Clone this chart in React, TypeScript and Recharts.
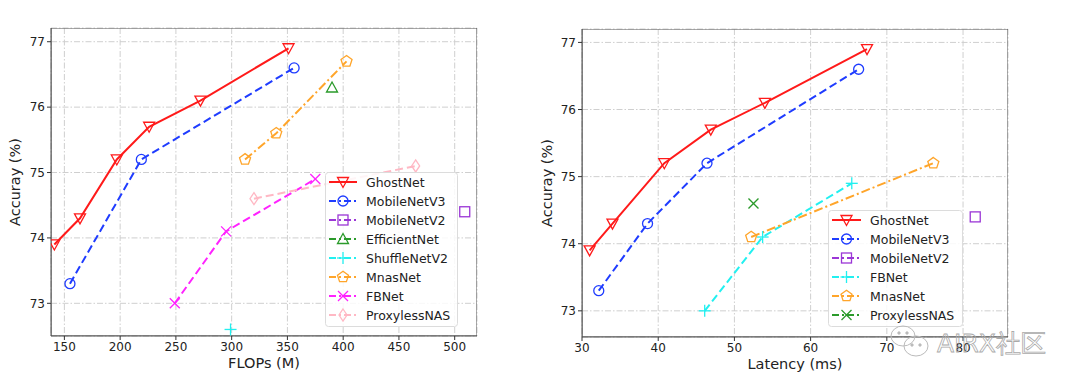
import React from "react";
import {
  ComposedChart,
  Line,
  XAxis,
  YAxis,
  CartesianGrid,
  ReferenceArea,
  Label,
} from "recharts";

// ---------- Data ----------
// Left: FLOPs (M) vs accuracy
const ghostFlops = [141, 164, 197, 226, 272, 351];
const ghostAcc = [73.9, 74.3, 75.2, 75.7, 76.1, 76.9];
const mbv3Flops = [155, 219, 356];
const mbv3Acc = [73.3, 75.2, 76.6];
const mbv2Flops = [509];
const mbv2Acc = [74.4];
const effFlops = [390];
const effAcc = [76.3];
const shuffleFlops = [299];
const shuffleAcc = [72.6];
const mnasFlops = [312, 340, 403];
const mnasAcc = [75.2, 75.6, 76.7];
const fbFlops = [249, 295, 375];
const fbAcc = [73.0, 74.1, 74.9];
const proxyFlops = [320, 465];
const proxyAcc = [74.6, 75.1];

// Right: Latency (ms) vs accuracy
const ghostLat = [31.0, 34.0, 40.8, 46.9, 54.0, 67.4];
const ghostLatAcc = [73.9, 74.3, 75.2, 75.7, 76.1, 76.9];
const mbv3Lat = [32.2, 38.6, 46.4, 66.3];
const mbv3LatAcc = [73.3, 74.3, 75.2, 76.6];
const mbv2Lat = [81.6];
const mbv2LatAcc = [74.4];
const fbLat = [46.1, 53.7, 65.4];
const fbLatAcc = [73.0, 74.1, 74.9];
const mnasLat = [52.2, 76.1];
const mnasLatAcc = [74.1, 75.2];
const proxyLat = [52.5];
const proxyLatAcc = [74.6];

const flopsTicks = [150, 200, 250, 300, 350, 400, 450, 500];
const latTicks = [30, 40, 50, 60, 70, 80];
const accTicks = [73, 74, 75, 76, 77];

const flopsDomain: [number, number] = [138, 520];
const accDomainL: [number, number] = [72.5, 77.21];
const latDomain: [number, number] = [30, 85.9];
const accDomainR: [number, number] = [72.61, 77.2];

// ---------- Styles ----------
const FONT = "DejaVu Sans, Verdana, sans-serif";
const C = {
  red: "#ff1a1a",
  blue: "#1f3cff",
  purple: "#9b36d6",
  green: "#2a9a2a",
  cyan: "#22f0f0",
  orange: "#ffa52a",
  magenta: "#ff22ff",
  pink: "#ffb8c4",
};
const DASH = "8 4";
const DASHDOT = "9 3 2 3";

type Marker = "v" | "o" | "s" | "^" | "+" | "p" | "x" | "d";

function markerShape(kind: Marker, cx: number, cy: number, color: string, key?: string) {
  const sw = 1.3;
  const common = { stroke: color, strokeWidth: sw, fill: "none" } as any;
  switch (kind) {
    case "v":
      return <polygon key={key} {...common} points={`${cx - 5.5},${cy - 4.5} ${cx + 5.5},${cy - 4.5} ${cx},${cy + 5.5}`} />;
    case "^":
      return <polygon key={key} {...common} points={`${cx - 5.5},${cy + 4.5} ${cx + 5.5},${cy + 4.5} ${cx},${cy - 5.5}`} />;
    case "o":
      return <circle key={key} {...common} cx={cx} cy={cy} r={5} />;
    case "s":
      return <rect key={key} {...common} x={cx - 5} y={cy - 5} width={10} height={10} />;
    case "+":
      return (
        <g key={key} {...common}>
          <line x1={cx - 6} y1={cy} x2={cx + 6} y2={cy} />
          <line x1={cx} y1={cy - 6} x2={cx} y2={cy + 6} />
        </g>
      );
    case "x":
      return (
        <g key={key} {...common}>
          <line x1={cx - 5} y1={cy - 5} x2={cx + 5} y2={cy + 5} />
          <line x1={cx - 5} y1={cy + 5} x2={cx + 5} y2={cy - 5} />
        </g>
      );
    case "p": {
      const pts: string[] = [];
      for (let i = 0; i < 5; i++) {
        const a = -Math.PI / 2 + (i * 2 * Math.PI) / 5;
        pts.push(`${cx + 5.8 * Math.cos(a)},${cy + 5.8 * Math.sin(a)}`);
      }
      return <polygon key={key} {...common} points={pts.join(" ")} />;
    }
    case "d":
      return <polygon key={key} {...common} points={`${cx},${cy - 6} ${cx + 4},${cy} ${cx},${cy + 6} ${cx - 4},${cy}`} />;
  }
  return null;
}

const dotFor = (kind: Marker, color: string) => (props: any) => {
  const { cx, cy, index } = props;
  if (cx == null || cy == null) return <g key={`e${index}`} />;
  return markerShape(kind, cx, cy, color, `m${index}`);
};

interface Series {
  name: string;
  xs: number[];
  ys: number[];
  color: string;
  marker: Marker;
  dash?: string;
  width: number;
}

const zip = (xs: number[], ys: number[]) => xs.map((x, i) => ({ x, y: ys[i] }));

const leftSeries: Series[] = [
  { name: "GhostNet", xs: ghostFlops, ys: ghostAcc, color: C.red, marker: "v", width: 2 },
  { name: "MobileNetV3", xs: mbv3Flops, ys: mbv3Acc, color: C.blue, marker: "o", dash: DASH, width: 2 },
  { name: "MobileNetV2", xs: mbv2Flops, ys: mbv2Acc, color: C.purple, marker: "s", dash: DASHDOT, width: 2 },
  { name: "EfficientNet", xs: effFlops, ys: effAcc, color: C.green, marker: "^", dash: DASHDOT, width: 2 },
  { name: "ShuffleNetV2", xs: shuffleFlops, ys: shuffleAcc, color: C.cyan, marker: "+", dash: DASHDOT, width: 2 },
  { name: "MnasNet", xs: mnasFlops, ys: mnasAcc, color: C.orange, marker: "p", dash: DASHDOT, width: 2 },
  { name: "FBNet", xs: fbFlops, ys: fbAcc, color: C.magenta, marker: "x", dash: DASH, width: 2 },
  { name: "ProxylessNAS", xs: proxyFlops, ys: proxyAcc, color: C.pink, marker: "d", dash: DASH, width: 2 },
];

const rightSeries: Series[] = [
  { name: "GhostNet", xs: ghostLat, ys: ghostLatAcc, color: C.red, marker: "v", width: 2 },
  { name: "MobileNetV3", xs: mbv3Lat, ys: mbv3LatAcc, color: C.blue, marker: "o", dash: DASH, width: 2 },
  { name: "MobileNetV2", xs: mbv2Lat, ys: mbv2LatAcc, color: C.purple, marker: "s", dash: DASHDOT, width: 2 },
  { name: "FBNet", xs: fbLat, ys: fbLatAcc, color: C.cyan, marker: "+", dash: DASH, width: 2 },
  { name: "MnasNet", xs: mnasLat, ys: mnasLatAcc, color: C.orange, marker: "p", dash: DASHDOT, width: 2 },
  { name: "ProxylessNAS", xs: proxyLat, ys: proxyLatAcc, color: C.green, marker: "x", dash: DASHDOT, width: 2 },
];

const tickStyle = { fontFamily: FONT, fontSize: 12, fill: "#222" };
const labelStyle = { fontFamily: FONT, fontSize: 14.5, fill: "#222" };

function LegendBox({ series, left, top, width, textX }: { series: Series[]; left: number; top: number; width: number; textX: number }) {
  const rowH = 19;
  const h = series.length * rowH + 3;
  return (
    <svg style={{ position: "absolute", left, top, overflow: "visible" }} width={width} height={h}>
      <rect x={0.5} y={0.5} width={width - 1} height={h - 1} rx={3} fill="rgba(255,255,255,0.85)" stroke="#dcdcdc" />
      {series.map((s, i) => {
        const cy = 10 + i * rowH;
        return (
          <g key={s.name}>
            <line x1={4} x2={textX - 9} y1={cy} y2={cy} stroke={s.color} strokeWidth={2} strokeDasharray={s.dash ? "7 3 2 3" : undefined} />
            {markerShape(s.marker, (4 + textX - 9) / 2, cy, s.color)}
            <text x={textX} y={cy + 4.5} fontFamily={FONT} fontSize={12.5} fill="#222">
              {s.name}
            </text>
          </g>
        );
      })}
    </svg>
  );
}

function Panel({
  series,
  xDomain,
  yDomain,
  xTicks,
  xLabel,
  margin,
  yAxisWidth,
  yLabelOffset,
}: {
  series: Series[];
  xDomain: [number, number];
  yDomain: [number, number];
  xTicks: number[];
  xLabel: string;
  margin: any;
  yAxisWidth: number;
  yLabelOffset: number;
}) {
  return (
    <ComposedChart width={540} height={390} margin={margin}>
      <CartesianGrid stroke="#cfcfcf" strokeDasharray="6 2 1.5 2" strokeWidth={1} />
      <XAxis
        type="number"
        dataKey="x"
        domain={xDomain}
        ticks={xTicks}
        allowDataOverflow
        height={30}
        tick={tickStyle}
        tickSize={4}
        tickMargin={2}
        axisLine={{ stroke: "#555" }}
        tickLine={{ stroke: "#333" }}
      >
        <Label value={xLabel} position="bottom" offset={-8} style={labelStyle} />
      </XAxis>
      <YAxis
        type="number"
        dataKey="y"
        domain={yDomain}
        ticks={accTicks}
        allowDataOverflow
        width={yAxisWidth}
        tick={tickStyle}
        tickSize={4}
        tickMargin={2}
        axisLine={{ stroke: "#555" }}
        tickLine={{ stroke: "#333" }}
      >
        <Label value="Accuray (%)" angle={-90} position="insideLeft" offset={yLabelOffset} style={{ ...labelStyle, textAnchor: "middle" }} />
      </YAxis>
      <ReferenceArea x1={xDomain[0]} x2={xDomain[1]} y1={yDomain[0]} y2={yDomain[1]} fill="none" stroke="#555" strokeWidth={1} ifOverflow="hidden" />
      {series.map((s) => (
        <Line
          key={s.name}
          name={s.name}
          data={zip(s.xs, s.ys)}
          dataKey="y"
          type="linear"
          stroke={s.color}
          strokeWidth={s.width}
          strokeDasharray={s.dash}
          dot={dotFor(s.marker, s.color)}
          activeDot={false}
          isAnimationActive={false}
        />
      ))}
    </ComposedChart>
  );
}

export default function App() {
  return (
    <div style={{ position: "absolute", left: 0, top: 0, width: 1080, height: 390, background: "#fff", overflow: "hidden" }}>
      <div style={{ position: "absolute", left: 0, top: 0 }}>
        <Panel
          series={leftSeries}
          xDomain={flopsDomain}
          yDomain={accDomainL}
          xTicks={flopsTicks}
          xLabel="FLOPs (M)"
          margin={{ top: 28, right: 63, bottom: 24, left: 11 }}
          yAxisWidth={40}
          yLabelOffset={4}
        />
      </div>
      <div style={{ position: "absolute", left: 540, top: 0 }}>
        <Panel
          series={rightSeries}
          xDomain={latDomain}
          yDomain={accDomainR}
          xTicks={latTicks}
          xLabel="Latency (ms)"
          margin={{ top: 29, right: 72, bottom: 23, left: 12 }}
          yAxisWidth={30}
          yLabelOffset={-5}
        />
      </div>
      <LegendBox series={leftSeries} left={325} top={172} width={133} textX={41} />
      <LegendBox series={rightSeries} left={828} top={210} width={135} textX={42} />
      <svg style={{ position: "absolute", left: 0, top: 0, pointerEvents: "none" }} width={1080} height={390}>
        <g fill="none" stroke="#bbb" strokeWidth={1}>
          <ellipse cx={903} cy={336} rx={12} ry={10} />
          <ellipse cx={916} cy={346} rx={12} ry={10} />
          <circle cx={899} cy={333} r={1.2} fill="#bbb" />
          <circle cx={907} cy={333} r={1.2} fill="#bbb" />
          <circle cx={912} cy={345} r={1.2} fill="#bbb" />
          <circle cx={920} cy={345} r={1.2} fill="#bbb" />
        </g>
        <text x={937} y={352} fontFamily={FONT} fontSize={25} fill="none" stroke="#aaa" strokeWidth={0.8}>
          AIRX社区
        </text>
      </svg>
    </div>
  );
}
